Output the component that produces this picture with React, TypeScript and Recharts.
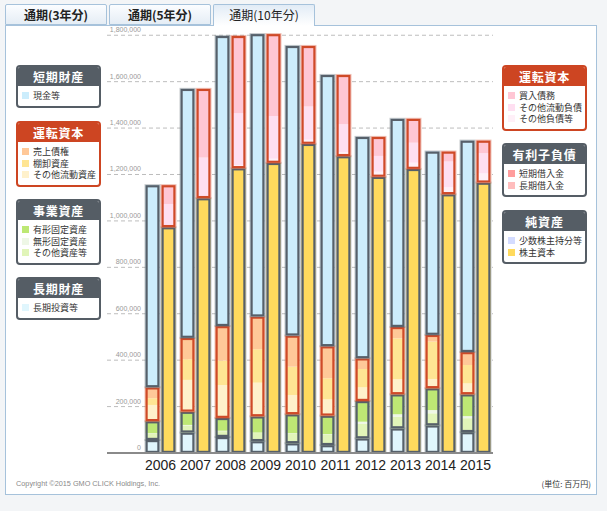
import React from 'react';
import { ComposedChart, Bar, XAxis, YAxis, CartesianGrid } from 'recharts';

// ---------- data ----------
const years = ['2006', '2007', '2008', '2009', '2010', '2011', '2012', '2013', '2014', '2015'];
const yTicks = [0, 200000, 400000, 600000, 800000, 1000000, 1200000, 1400000, 1600000, 1800000];

// 資産 (left bar of each year), bottom to top
const longInvest = [56000, 88000, 69000, 51000, 42000, 34000, 63000, 106000, 119000, 90000];
const otherAssets = [27000, 31000, 25000, 35000, 41000, 45000, 62000, 50000, 52000, 60000];
const intangibleAssets = [2000, 2000, 2000, 2000, 2000, 2000, 10000, 11000, 14000, 9000];
const tangibleAssets = [52000, 57000, 55000, 70000, 82000, 80000, 89000, 86000, 94000, 94000];
const otherCurrentAssets = [70000, 137000, 142000, 145000, 83000, 70000, 59000, 65000, 40000, 47000];
const inventories = [29000, 89000, 105000, 144000, 122000, 91000, 79000, 176000, 161000, 79000];
const receivables = [47000, 92000, 149000, 141000, 134000, 138000, 46000, 49000, 29000, 56000];
const cash = [871000, 1073000, 1250000, 1217000, 1248000, 1169000, 954000, 897000, 790000, 911000];

// 負債・純資産 (right bar of each year), bottom to top
const equity = [973000, 1098000, 1227000, 1250000, 1332000, 1279000, 1190000, 1224000, 1115000, 1165000];
const minority = [0, 0, 0, 0, 0, 0, 0, 0, 0, 0];
const longLoans = [0, 0, 0, 0, 0, 0, 0, 0, 0, 0];
const shortLoans = [0, 0, 0, 0, 0, 0, 0, 0, 0, 0];
const otherLiabilities = [0, 0, 13000, 18000, 18000, 18000, 22000, 27000, 31000, 40000];
const otherCurrentLiabilities = [100000, 175000, 224000, 184000, 143000, 120000, 68000, 86000, 110000, 87000];
const payables = [81000, 296000, 333000, 353000, 261000, 212000, 82000, 103000, 43000, 54000];

// ---------- styles ----------
const GRAY = '#56606a';
const RED = '#cf4a28';
const C = {
  cash: '#ccedfc',
  longInvest: '#e0f6fd',
  tangible: '#bde874',
  intangible: '#eef7e6',
  otherAssets: '#e1f5b9',
  receivables: '#ffc898',
  inventories: '#ffe593',
  otherCurA: '#fff1cb',
  payables: '#ffc6d4',
  otherCurL: '#ffdff1',
  otherLiab: '#fff0f8',
  shortLoans: '#ff9d9d',
  longLoans: '#ffbdbd',
  minority: '#d4dcff',
  equity: '#ffda5d',
};

type Group = { key: string; stack: string; parts: number[][]; colors: string[]; stroke: string };

const groups: Group[] = [
  { key: 'longTerm', stack: 'L', parts: [longInvest], colors: [C.longInvest], stroke: GRAY },
  { key: 'business', stack: 'L', parts: [otherAssets, intangibleAssets, tangibleAssets], colors: [C.otherAssets, C.intangible, C.tangible], stroke: GRAY },
  { key: 'workingA', stack: 'L', parts: [otherCurrentAssets, inventories, receivables], colors: [C.otherCurA, C.inventories, C.receivables], stroke: RED },
  { key: 'shortTerm', stack: 'L', parts: [cash], colors: [C.cash], stroke: GRAY },
  { key: 'netAssets', stack: 'R', parts: [equity, minority], colors: [C.equity, C.minority], stroke: GRAY },
  { key: 'debt', stack: 'R', parts: [longLoans, shortLoans], colors: [C.longLoans, C.shortLoans], stroke: GRAY },
  { key: 'workingL', stack: 'R', parts: [otherLiabilities, otherCurrentLiabilities, payables], colors: [C.otherLiab, C.otherCurL, C.payables], stroke: RED },
];

const data = years.map((year, i) => {
  const row: any = { year, i };
  groups.forEach((g) => {
    row[g.key] = g.parts.reduce((s, p) => s + p[i], 0);
  });
  return row;
});

const makeShape = (g: Group) => (props: any) => {
  const { x, y, width, height, payload } = props;
  if (!height || height <= 0 || !payload) return <g />;
  const i = payload.i;
  const vals = g.parts.map((p) => p[i]);
  const total = vals.reduce((s, v) => s + v, 0);
  if (total <= 0) return <g />;
  let cursor = y + height;
  const rects = vals.map((v, k) => {
    const h = (height * v) / total;
    cursor -= h;
    return <rect key={k} x={x} y={cursor} width={width} height={h} fill={g.colors[k]} />;
  });
  const sw = 2.2;
  return (
    <g>
      {rects}
      <rect x={x - 0.5} y={y - 0.5} width={width + 1} height={height + 1} fill="none" stroke={g.stroke} strokeOpacity={0.35} strokeWidth={1} />
      <rect x={x + sw / 2} y={y + sw / 2} width={width - sw} height={Math.max(height - sw, 0)} fill="none" stroke={g.stroke} strokeWidth={sw} />
    </g>
  );
};

const YTick = (props: any) => {
  const { y, payload } = props;
  return (
    <text x={141} y={y - 3} textAnchor="end" fontSize={7} fill="#999999" fontFamily="Liberation Sans, Arial, sans-serif">
      {Number(payload.value).toLocaleString('en-US')}
    </text>
  );
};

// ---------- legends ----------
type LegendDef = { title: string; red: boolean; left: number; top: number; items: [string, string][] };
const legends: LegendDef[] = [
  { title: '短期財産', red: false, left: 16, top: 65, items: [['現金等', C.cash]] },
  { title: '運転資本', red: true, left: 16, top: 121, items: [['売上債権', C.receivables], ['棚卸資産', C.inventories], ['その他流動資産', C.otherCurA]] },
  { title: '事業資産', red: false, left: 16, top: 199, items: [['有形固定資産', C.tangible], ['無形固定資産', C.intangible], ['その他資産等', C.otherAssets]] },
  { title: '長期財産', red: false, left: 16, top: 277, items: [['長期投資等', C.longInvest]] },
  { title: '運転資本', red: true, left: 502, top: 65, items: [['買入債務', C.payables], ['その他流動負債', C.otherCurL], ['その他負債等', C.otherLiab]] },
  { title: '有利子負債', red: false, left: 502, top: 143, items: [['短期借入金', C.shortLoans], ['長期借入金', C.longLoans]] },
  { title: '純資産', red: false, left: 502, top: 210, items: [['少数株主持分等', C.minority], ['株主資本', C.equity]] },
];

const JP = '"Noto Sans CJK JP", "Noto Sans", sans-serif';

const LegendBox = ({ d }: { d: LegendDef }) => {
  const col = d.red ? '#cd4522' : '#555d65';
  return (
    <div
      style={{
        position: 'absolute',
        left: d.left,
        top: d.top,
        width: 85,
        boxSizing: 'border-box',
        border: `2px solid ${col}`,
        borderRadius: 4,
        background: '#fff',
        overflow: 'hidden',
        fontFamily: JP,
      }}
    >
      <div style={{ background: col, color: '#fff', fontWeight: 700, fontSize: 12, height: 19, lineHeight: '19px', textAlign: 'center', letterSpacing: 0.8 }}>
        {d.title}
      </div>
      <div style={{ padding: '4px 0 4px 4px' }}>
        {d.items.map(([label, color]) => (
          <div key={label} style={{ display: 'flex', alignItems: 'center', height: 11.5, fontSize: 9, color: '#333', whiteSpace: 'nowrap' }}>
            <span style={{ display: 'inline-block', width: 7, height: 7, background: color, marginRight: 4 }} />
            <span>{label}</span>
          </div>
        ))}
      </div>
    </div>
  );
};

const tabs = ['通期(3年分)', '通期(5年分)', '通期(10年分)'];

export default function App() {
  return (
    <div style={{ position: 'absolute', left: 0, top: 0, width: 607, height: 511, background: '#f3f5f7', overflow: 'hidden' }}>
      {/* panel */}
      <div style={{ position: 'absolute', left: 5, top: 25, width: 592, height: 470, boxSizing: 'border-box', border: '1px solid #a6c2db', background: '#fff' }} />
      {/* tabs */}
      {tabs.map((t, k) => {
        const active = k === 2;
        return (
          <div
            key={t}
            style={{
              position: 'absolute',
              left: 5 + k * 104,
              top: 4,
              width: 102,
              height: active ? 22 : 21,
              boxSizing: 'border-box',
              border: '1px solid #a6c2db',
              borderBottom: active ? 'none' : '1px solid #a6c2db',
              borderRadius: '2px 2px 0 0',
              background: active ? 'linear-gradient(#e2ecf6, #ffffff)' : 'linear-gradient(#fbfdff, #e5edf5)',
              textAlign: 'center',
              lineHeight: '19px',
              fontFamily: JP,
              fontSize: 12,
              fontWeight: active ? 400 : 700,
              color: '#222',
            }}
          >
            {t}
          </div>
        );
      })}

      <div style={{ position: 'absolute', left: 0, top: 0 }}>
        <ComposedChart
          width={607}
          height={511}
          data={data}
          margin={{ top: 30.6, right: 114, bottom: 28, left: 73 }}
          barCategoryGap={2.5}
          barGap={2}
        >
          <CartesianGrid vertical={false} horizontalValues={yTicks} stroke="#bdbdbd" strokeDasharray="4 3" />
          <XAxis
            dataKey="year"
            interval={0}
            padding={{ left: 36, right: 0 }}
            height={30}
            tickLine={false}
            tickMargin={1}
            axisLine={{ stroke: '#8a8a8a', strokeWidth: 2 }}
            tick={{ fontSize: 14, fill: '#222', fontFamily: 'Liberation Sans, Arial, sans-serif' }}
          />
          <YAxis
            type="number"
            domain={[0, 1820000]}
            ticks={yTicks}
            allowDataOverflow
            width={34}
            tickLine={false}
            axisLine={false}
            interval={0}
            tick={YTick}
          />
          {groups.map((g) => (
            <Bar key={g.key} dataKey={g.key} stackId={g.stack} shape={makeShape(g)} isAnimationActive={false} />
          ))}
        </ComposedChart>
      </div>

      {legends.map((d, k) => (
        <LegendBox key={k} d={d} />
      ))}

      <div style={{ position: 'absolute', left: 16, top: 479, fontSize: 7.3, color: '#8a8a8a', fontFamily: 'Liberation Sans, Arial, sans-serif', whiteSpace: 'nowrap' }}>
        Copyright ©2015 GMO CLICK Holdings, Inc.
      </div>
      <div style={{ position: 'absolute', right: 16, top: 478, fontSize: 8, color: '#333', fontFamily: JP, whiteSpace: 'nowrap' }}>
        (単位: 百万円)
      </div>
    </div>
  );
}
